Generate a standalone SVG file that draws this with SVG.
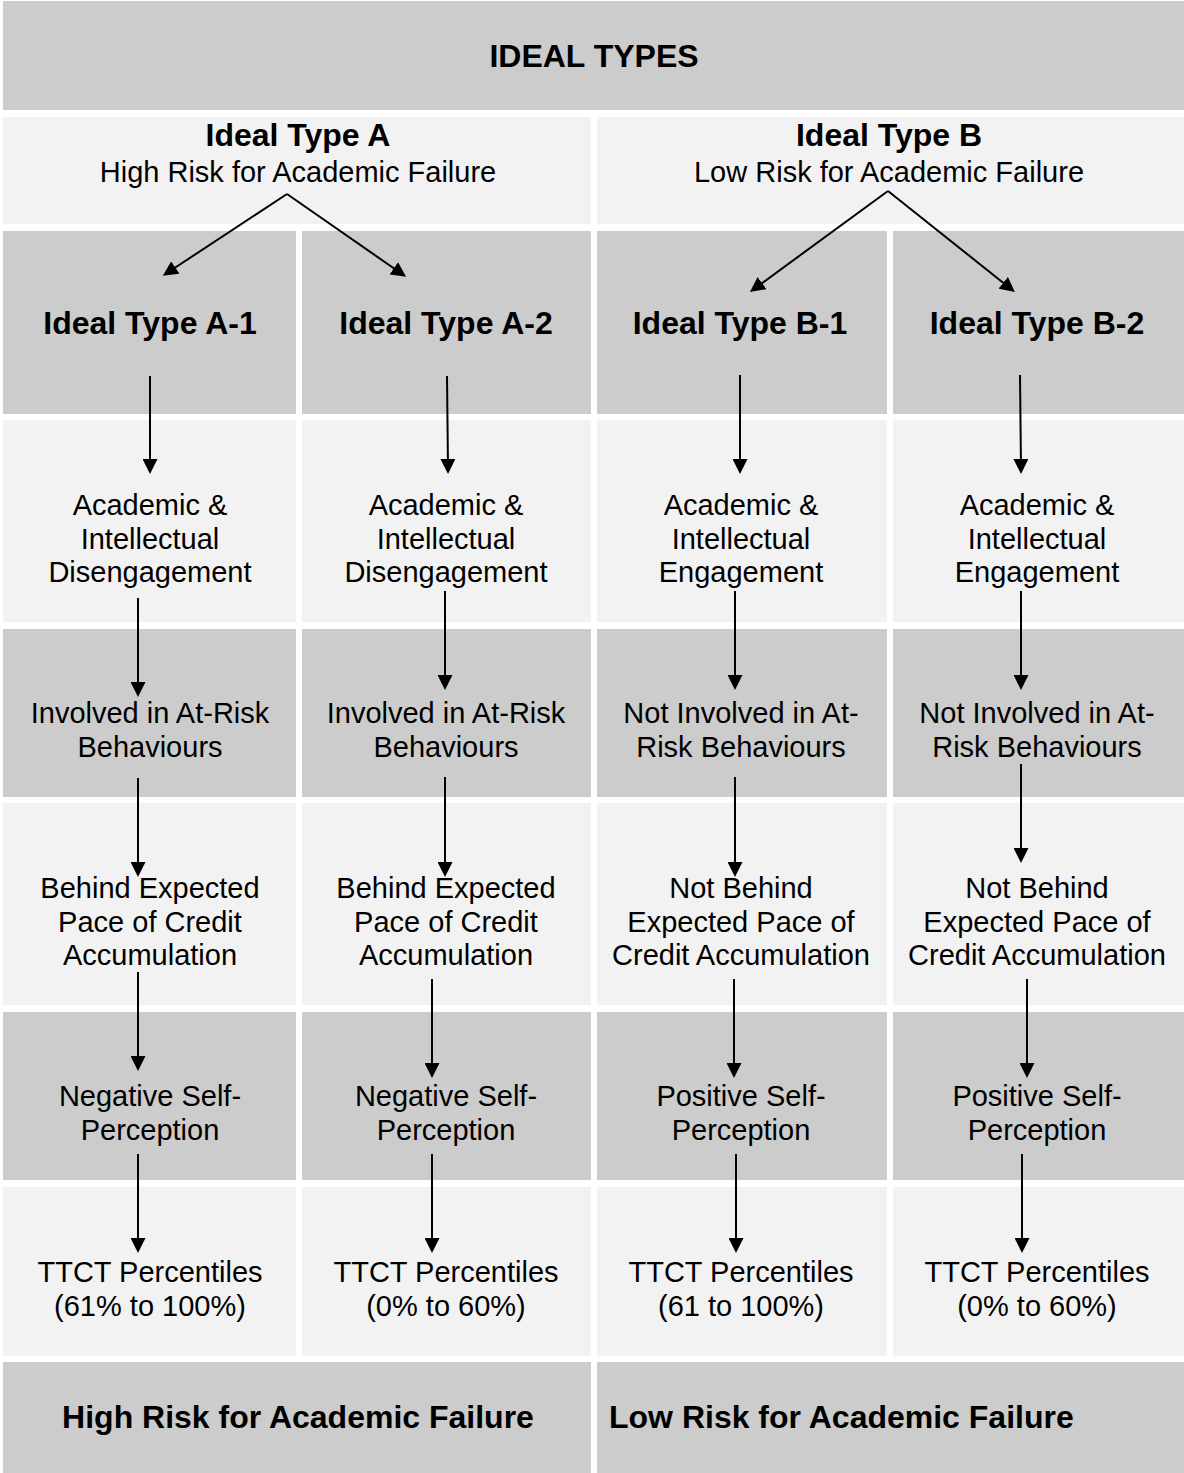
<svg xmlns="http://www.w3.org/2000/svg" width="1184" height="1473" viewBox="0 0 1184 1473">
<style>
.dk{fill:#cccccc}
.lt{fill:#f2f2f2}
.t{font-family:"Liberation Sans",Arial,sans-serif;font-size:29px;fill:#000;text-anchor:middle}
.b{font-family:"Liberation Sans",Arial,sans-serif;font-size:32px;font-weight:bold;fill:#000;text-anchor:middle}
.c line{stroke:#000;stroke-width:2;marker-end:url(#ah)}
</style>
<defs>
<marker id="ah" markerUnits="userSpaceOnUse" viewBox="0 0 15 15" markerWidth="15" markerHeight="15" refX="10" refY="7.5" orient="auto">
<path d="M0,0 L15,7.5 L0,15 z" fill="#000"/>
</marker>
</defs>
<rect width="1184" height="1473" fill="#fff"/>

<g id="header"><rect class="dk" x="3" y="1" width="1181" height="109"/><text class="b" x="594" y="67">IDEAL TYPES</text></g>

<g id="typeA"><rect class="lt" x="3" y="117" width="588" height="107"/><text class="b" x="298" y="146">Ideal Type A</text><text class="t" x="298" y="182">High Risk for Academic Failure</text></g>
<g id="typeB"><rect class="lt" x="597" y="117" width="587" height="107"/><text class="b" x="889" y="146">Ideal Type B</text><text class="t" x="889" y="182">Low Risk for Academic Failure</text></g>

<g id="a1"><rect class="dk" x="3" y="231" width="293" height="183"/><text class="b" x="150" y="334">Ideal Type A-1</text></g>
<g id="a2"><rect class="dk" x="302" y="231" width="289" height="183"/><text class="b" x="446" y="334">Ideal Type A-2</text></g>
<g id="b1"><rect class="dk" x="597" y="231" width="290" height="183"/><text class="b" x="740" y="334">Ideal Type B-1</text></g>
<g id="b2"><rect class="dk" x="893" y="231" width="291" height="183"/><text class="b" x="1037" y="334">Ideal Type B-2</text></g>

<g id="a1-eng"><rect class="lt" x="3" y="420" width="293" height="202"/><text class="t" x="150" y="515">Academic &amp;<tspan x="150" dy="33.5">Intellectual</tspan><tspan x="150" dy="33.5">Disengagement</tspan></text></g>
<g id="a2-eng"><rect class="lt" x="302" y="420" width="289" height="202"/><text class="t" x="446" y="515">Academic &amp;<tspan x="446" dy="33.5">Intellectual</tspan><tspan x="446" dy="33.5">Disengagement</tspan></text></g>
<g id="b1-eng"><rect class="lt" x="597" y="420" width="290" height="202"/><text class="t" x="741" y="515">Academic &amp;<tspan x="741" dy="33.5">Intellectual</tspan><tspan x="741" dy="33.5">Engagement</tspan></text></g>
<g id="b2-eng"><rect class="lt" x="893" y="420" width="291" height="202"/><text class="t" x="1037" y="515">Academic &amp;<tspan x="1037" dy="33.5">Intellectual</tspan><tspan x="1037" dy="33.5">Engagement</tspan></text></g>

<g id="a1-risk"><rect class="dk" x="3" y="629" width="293" height="168"/><text class="t" x="150" y="723">Involved in At-Risk<tspan x="150" dy="34">Behaviours</tspan></text></g>
<g id="a2-risk"><rect class="dk" x="302" y="629" width="289" height="168"/><text class="t" x="446" y="723">Involved in At-Risk<tspan x="446" dy="34">Behaviours</tspan></text></g>
<g id="b1-risk"><rect class="dk" x="597" y="629" width="290" height="168"/><text class="t" x="741" y="723">Not Involved in At-<tspan x="741" dy="34">Risk Behaviours</tspan></text></g>
<g id="b2-risk"><rect class="dk" x="893" y="629" width="291" height="168"/><text class="t" x="1037" y="723">Not Involved in At-<tspan x="1037" dy="34">Risk Behaviours</tspan></text></g>

<g id="a1-pace"><rect class="lt" x="3" y="803" width="293" height="202"/><text class="t" x="150" y="898">Behind Expected<tspan x="150" dy="33.5">Pace of Credit</tspan><tspan x="150" dy="33.5">Accumulation</tspan></text></g>
<g id="a2-pace"><rect class="lt" x="302" y="803" width="289" height="202"/><text class="t" x="446" y="898">Behind Expected<tspan x="446" dy="33.5">Pace of Credit</tspan><tspan x="446" dy="33.5">Accumulation</tspan></text></g>
<g id="b1-pace"><rect class="lt" x="597" y="803" width="290" height="202"/><text class="t" x="741" y="898">Not Behind<tspan x="741" dy="33.5">Expected Pace of</tspan><tspan x="741" dy="33.5">Credit Accumulation</tspan></text></g>
<g id="b2-pace"><rect class="lt" x="893" y="803" width="291" height="202"/><text class="t" x="1037" y="898">Not Behind<tspan x="1037" dy="33.5">Expected Pace of</tspan><tspan x="1037" dy="33.5">Credit Accumulation</tspan></text></g>

<g id="a1-self"><rect class="dk" x="3" y="1012" width="293" height="168"/><text class="t" x="150" y="1106">Negative Self-<tspan x="150" dy="34">Perception</tspan></text></g>
<g id="a2-self"><rect class="dk" x="302" y="1012" width="289" height="168"/><text class="t" x="446" y="1106">Negative Self-<tspan x="446" dy="34">Perception</tspan></text></g>
<g id="b1-self"><rect class="dk" x="597" y="1012" width="290" height="168"/><text class="t" x="741" y="1106">Positive Self-<tspan x="741" dy="34">Perception</tspan></text></g>
<g id="b2-self"><rect class="dk" x="893" y="1012" width="291" height="168"/><text class="t" x="1037" y="1106">Positive Self-<tspan x="1037" dy="34">Perception</tspan></text></g>

<g id="a1-ttct"><rect class="lt" x="3" y="1187" width="293" height="169"/><text class="t" x="150" y="1282">TTCT Percentiles<tspan x="150" dy="34">(61% to 100%)</tspan></text></g>
<g id="a2-ttct"><rect class="lt" x="302" y="1187" width="289" height="169"/><text class="t" x="446" y="1282">TTCT Percentiles<tspan x="446" dy="34">(0% to 60%)</tspan></text></g>
<g id="b1-ttct"><rect class="lt" x="597" y="1187" width="290" height="169"/><text class="t" x="741" y="1282">TTCT Percentiles<tspan x="741" dy="34">(61 to 100%)</tspan></text></g>
<g id="b2-ttct"><rect class="lt" x="893" y="1187" width="291" height="169"/><text class="t" x="1037" y="1282">TTCT Percentiles<tspan x="1037" dy="34">(0% to 60%)</tspan></text></g>

<g id="outA"><rect class="dk" x="3" y="1362" width="588" height="111"/><text class="b" x="298" y="1428">High Risk for Academic Failure</text></g>
<g id="outB"><rect class="dk" x="597" y="1362" width="587" height="111"/><text class="b" x="609" y="1428" style="text-anchor:start">Low Risk for Academic Failure</text></g>

<g id="connectors" class="c">
<line x1="287" y1="194" x2="167" y2="273"/>
<line x1="287" y1="194" x2="402" y2="274"/>
<line x1="888" y1="191" x2="754" y2="289"/>
<line x1="888" y1="191" x2="1011" y2="289"/>

<line x1="150" y1="376" x2="150" y2="469"/>
<line x1="447" y1="376" x2="448" y2="469"/>
<line x1="740" y1="375" x2="740" y2="469"/>
<line x1="1020" y1="375" x2="1021" y2="469"/>

<line x1="138" y1="598" x2="138" y2="692"/>
<line x1="445" y1="591" x2="445" y2="685"/>
<line x1="735" y1="591" x2="735" y2="685"/>
<line x1="1021" y1="591" x2="1021" y2="685"/>

<line x1="138" y1="778" x2="138" y2="872"/>
<line x1="445" y1="777" x2="445" y2="872"/>
<line x1="735" y1="777" x2="735" y2="872"/>
<line x1="1021" y1="764" x2="1021" y2="858"/>

<line x1="138" y1="972" x2="138" y2="1066"/>
<line x1="432" y1="979" x2="432" y2="1073"/>
<line x1="734" y1="979" x2="734" y2="1073"/>
<line x1="1027" y1="979" x2="1027" y2="1073"/>

<line x1="138" y1="1154" x2="138" y2="1248"/>
<line x1="432" y1="1154" x2="432" y2="1248"/>
<line x1="736" y1="1154" x2="736" y2="1248"/>
<line x1="1022" y1="1154" x2="1022" y2="1248"/>
</g>
</svg>
